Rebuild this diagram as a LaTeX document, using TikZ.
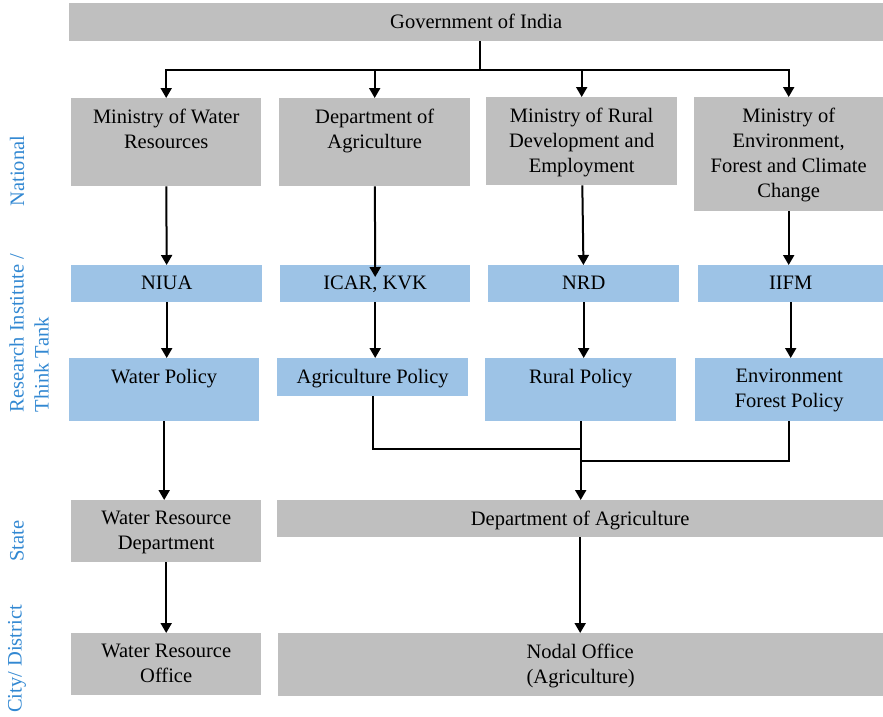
\documentclass[tikz,border=0pt]{standalone}
\usepackage{fontspec}
\setmainfont{Liberation Serif}
\usetikzlibrary{arrows.meta}

\definecolor{boxgray}{RGB}{191,191,191}
\definecolor{boxblue}{RGB}{157,195,230}
\definecolor{sideblue}{RGB}{50,136,210}

\tikzset{
  gbox/.style={fill=boxgray, inner sep=0pt, anchor=north west},
  bbox/.style={fill=boxblue, inner sep=0pt, anchor=north west},
  tx/.style={anchor=north, align=center, inner sep=0pt, yshift=-11pt, font=\fontsize{20.5}{25}\selectfont},
  side/.style={rotate=90, text=sideblue, inner sep=0pt, font=\fontsize{20.5}{25}\selectfont},
  arr/.style={line width=2pt, -{Triangle[length=10pt,width=11pt]}},
  con/.style={line width=2pt}
}

\begin{document}
\begin{tikzpicture}[x=1pt,y=-1pt]
\useasboundingbox (0,0) rectangle (883,716);

% national level
\node[gbox, minimum width=814pt, minimum height=38pt, label={[tx]north:Government of India}] (gov) at (69,3) {};
\node[gbox, minimum width=190pt, minimum height=88pt, label={[tx]north:Ministry of Water\\Resources}] (mwr) at (71,98) {};
\node[gbox, minimum width=191pt, minimum height=88pt, label={[tx]north:Department of\\Agriculture}] (doa) at (279,98) {};
\node[gbox, minimum width=191pt, minimum height=88pt, label={[tx]north:Ministry of Rural\\Development and\\Employment}] (mrd) at (486,97) {};
\node[gbox, minimum width=189pt, minimum height=114pt, label={[tx]north:Ministry of\\Environment,\\Forest and Climate\\Change}] (moef) at (694,97) {};

% research institutes
\node[bbox, minimum width=191pt, minimum height=37pt, label={[tx]north:NIUA}] (niua) at (71,265) {};
\node[bbox, minimum width=190pt, minimum height=37pt, label={[tx]north:ICAR, KVK}] (icar) at (280,265) {};
\node[bbox, minimum width=191pt, minimum height=37pt, label={[tx]north:NRD}] (nrd) at (488,265) {};
\node[bbox, minimum width=185pt, minimum height=37pt, label={[tx]north:IIFM}] (iifm) at (698,265) {};

\node[bbox, minimum width=190pt, minimum height=63pt, label={[tx]north:Water Policy}] (wp) at (69,358) {};
\node[bbox, minimum width=191pt, minimum height=38pt, label={[tx]north:Agriculture Policy}] (agp) at (277,358) {};
\node[bbox, minimum width=191pt, minimum height=63pt, label={[tx]north:Rural Policy}] (rp) at (485,358) {};
\node[bbox, minimum width=188pt, minimum height=63pt, label={[tx]north:Environment\\Forest Policy}] (efp) at (695,358) {};

% state and district
\node[gbox, minimum width=190pt, minimum height=62pt, label={[tx]north:Water Resource\\Department}] (wrd) at (71,500) {};
\node[gbox, minimum width=606pt, minimum height=37pt, label={[tx]north:Department of Agriculture}] (sdoa) at (277,500) {};
\node[gbox, minimum width=190pt, minimum height=62pt, label={[tx]north:Water Resource\\Office}] (wro) at (71,633) {};
\node[gbox, minimum width=605pt, minimum height=63pt, label={[tx, align=left]north:Nodal Office\\(Agriculture)}] (nodal) at (278,633) {};

% side labels
\node[side] (nat) at (17,171) {National};
\node[side, align=left] (rit) at (29,333) {Research Institute /\\Think Tank};
\node[side] (st) at (17,541) {State};
\node[side] (cd) at (17,659) {City/ District};

% connectors
\coordinate (top) at (480,70);
\coordinate (mid1) at (581,449);
\coordinate (mid2) at (581,461);

\draw[con] (gov.south -| top) -- (top);
\foreach \n in {mwr,doa,mrd,moef}
  \draw[arr] (top) -| (\n);

\draw[arr] (mwr) -- (niua);
\draw[arr] (doa) -- ([yshift=-12pt]icar.north);
\draw[arr] (mrd) -- (nrd);
\draw[arr] (moef) -- (moef |- iifm.north);

\draw[arr] (niua) -- (niua |- wp.north);
\draw[arr] (icar) -- (icar |- agp.north);
\draw[arr] (nrd) -- (nrd |- rp.north);
\draw[arr] (iifm) -- (iifm |- efp.north);

\draw[con] (agp) |- (mid1);
\draw[con] (efp) |- (mid2);
\draw[arr] (wp) -- (wp |- wrd.north);
\draw[arr] (rp) -- (rp |- sdoa.north);

\draw[arr] (wrd) -- (wro);
\draw[arr] (sdoa) -- (sdoa |- nodal.north);
\end{tikzpicture}
\end{document}
